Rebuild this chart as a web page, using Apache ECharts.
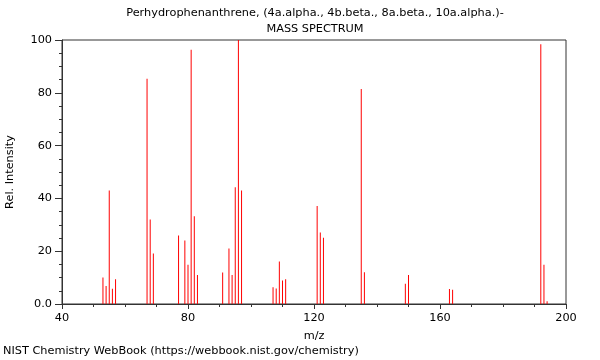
<!DOCTYPE html>
<html><head><meta charset="utf-8">
<script src="https://cdn.jsdelivr.net/npm/echarts@6/dist/echarts.min.js"></script>
<style>html,body{margin:0;padding:0;background:#fff}#c{width:600px;height:360px}</style>
</head><body><div id="c"></div>
<script>
const mz = [53,54,55,56,57,67,68,69,77,79,80,81,82,83,91,93,94,95,96,97,107,108,109,110,111,121,122,123,135,136,149,150,163,164,192,193,194];
const intensity = [10.0,6.8,43.0,5.8,9.4,85.3,32.0,19.1,25.9,24.1,14.9,96.3,33.2,11.0,11.9,21.0,11.0,44.2,100,43.0,6.3,5.9,16.1,8.9,9.4,37.1,27.1,25.1,81.4,12.0,7.7,11.0,5.7,5.4,98.4,14.9,1.0];
const xTicks = [40,80,120,160,200];
const yTicks = [0,20,40,60,80,100];
const titleLines = ['Perhydrophenanthrene, (4a.alpha., 4b.beta., 8a.beta., 10a.alpha.)-','MASS SPECTRUM'];
const footer = 'NIST Chemistry WebBook (https://webbook.nist.gov/chemistry)';

const font = 'DejaVu Sans';
const chart = echarts.init(document.getElementById('c'), null, {renderer:'canvas'});
chart.setOption({
  animation:false,
  textStyle:{fontFamily:font},
  graphic:[
    {type:'text', x:315, y:8, style:{text:titleLines[0], font:'11.3px "DejaVu Sans"', fill:'#000', align:'center', textAlign:'center'}},
    {type:'text', x:315, y:24, style:{text:titleLines[1], font:'11.3px "DejaVu Sans"', fill:'#000', align:'center', textAlign:'center'}},
    {type:'text', x:3, y:346, style:{text:footer, font:'11.3px "DejaVu Sans"', fill:'#000'}}
  ],
  grid:{left:62, right:34, top:40, bottom:56, outerBoundsMode:'none', containLabel:false, show:true, borderColor:'#333', borderWidth:1, backgroundColor:'transparent'},
  xAxis:{type:'value', min:xTicks[0], max:xTicks[xTicks.length-1], interval:40,
    name:'m/z', nameLocation:'middle', nameGap:27, nameTextStyle:{fontFamily:font,fontSize:11.3,color:'#000'},
    axisLine:{show:true, onZero:false, lineStyle:{color:'#333'}},
    axisTick:{show:true, length:5, lineStyle:{color:'#333'}},
    minorTick:{show:true, splitNumber:4, length:3, lineStyle:{color:'#333'}},
    axisLabel:{fontFamily:font, fontSize:11.3, color:'#000', margin:9},
    splitLine:{show:false}},
  yAxis:{type:'value', min:yTicks[0], max:yTicks[yTicks.length-1], interval:20,
    name:'Rel. Intensity', nameLocation:'middle', nameGap:46, nameRotate:90, nameTextStyle:{fontFamily:font,fontSize:11.3,color:'#000'},
    axisLine:{show:true, lineStyle:{color:'#333'}},
    axisTick:{show:true, length:7, lineStyle:{color:'#333'}},
    minorTick:{show:true, splitNumber:4, length:3, lineStyle:{color:'#333'}},
    axisLabel:{fontFamily:font, fontSize:11.3, color:'#000', margin:10, formatter:v=> v===0?'0.0':String(v)},
    splitLine:{show:false}},
  series:[{type:'bar', barWidth:1, data:mz.map((m,i)=>[m,intensity[i]]), itemStyle:{color:'#ff0000'}, silent:true}]
});
</script></body></html>
